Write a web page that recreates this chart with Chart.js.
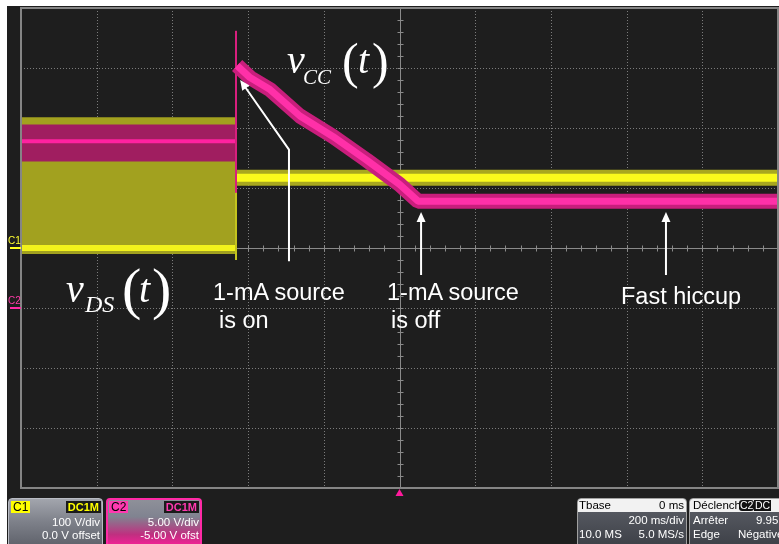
<!DOCTYPE html>
<html>
<head>
<meta charset="utf-8">
<script src="https://cdn.jsdelivr.net/npm/chart.js@4.4.1/dist/chart.umd.min.js"></script>
<style>
html, body { margin: 0; padding: 0; background: #fff; }
#scope { position: relative; width: 779px; height: 544px; overflow: hidden; background: #fff;
  font-family: 'Liberation Sans', Arial, sans-serif; }
#screen { position: absolute; left: 7px; top: 6px; right: 0; bottom: 0; background: #1e1e1e; }
#c { position: absolute; left: 0; top: 0; }
svg.notes { position: absolute; left: 0; top: 0; pointer-events: none; }

/* info boxes under the graticule */
.box { position: absolute; top: 498px; height: 52px; box-sizing: border-box; border-radius: 4px;
  color: #fff; font-size: 11.5px; line-height: 13px; overflow: hidden; }
.box span { position: absolute; white-space: nowrap; }
.ch { border: 1px solid #b8bbc3; background: linear-gradient(#a2a5ad, #7e818a 45%, #5b5e67); }
.ch2 { border: 2px solid #ff2aa6; background: linear-gradient(#8e9099, #808390 35%, #c02f80 72%, #ff1e9c); }
.tag { left: 2px; top: 2px; padding: 0 2px; color: #000; font-size: 12px; line-height: 12px; }
.cpl { right: 1px; top: 2px; padding: 0 2px; background: #1a1a1a; font-size: 11px; line-height: 12px; font-weight: bold; }
.tb { border: 1px solid #a0a0a0; background: linear-gradient(#5e6169, #3b3e45); }
.tb .hd { left: 0; right: 0; top: 0; height: 13px; background: #f2f2f2; }
.tb .dk { color: #000; }
</style>
</head>
<body>
<div id="scope">
  <div id="screen"></div>
  <canvas id="c" width="779" height="544"></canvas>

  <svg class="notes" width="779" height="544">
    <g font-family="'Liberation Serif','Times New Roman',serif" fill="#fff">
      <text x="287" y="73" font-size="40" font-style="italic">v</text>
      <text x="303" y="84" font-size="21" font-style="italic">CC</text>
      <text x="342" y="78" font-size="50">(</text>
      <text x="358" y="73" font-size="40" font-style="italic">t</text>
      <text x="372" y="78" font-size="50">)</text>

      <text x="66" y="302" font-size="40" font-style="italic">v</text>
      <text x="85" y="312" font-size="24" font-style="italic">DS</text>
      <text x="122" y="308" font-size="58">(</text>
      <text x="139" y="302" font-size="40" font-style="italic">t</text>
      <text x="152" y="308" font-size="58">)</text>
    </g>
    <g font-family="'Liberation Sans',Arial,sans-serif" font-size="23.5" fill="#fff">
      <text x="213" y="300">1-mA source</text>
      <text x="219" y="328">is on</text>
      <text x="387" y="300">1-mA source</text>
      <text x="391" y="328">is off</text>
      <text x="621" y="304">Fast hiccup</text>
    </g>
    <g font-family="'Liberation Sans',Arial,sans-serif" font-size="10">
      <text x="8" y="244" fill="#ffff30">C1</text>
      <text x="8" y="304" fill="#ff3aa8">C2</text>
    </g>
  </svg>

  <div class="box ch" style="left:8px;width:95px">
    <span class="tag" style="background:#ffff00">C1</span>
    <span class="cpl" style="color:#ffff00">DC1M</span>
    <span style="right:2px;top:17px">100 V/div</span>
    <span style="right:2px;top:30px">0.0 V offset</span>
  </div>
  <div class="box ch2" style="left:106px;width:96px">
    <span class="tag" style="background:#ff3ab0;left:1px;top:1px">C2</span>
    <span class="cpl" style="color:#ff3ab0;top:1px">DC1M</span>
    <span style="right:1px;top:16px">5.00 V/div</span>
    <span style="right:1px;top:29px">-5.00 V ofst</span>
  </div>
  <div class="box tb" style="left:577px;width:110px">
    <span class="hd"></span>
    <span class="dk" style="left:1px;top:0">Tbase</span>
    <span class="dk" style="right:2px;top:0">0 ms</span>
    <span style="right:2px;top:15px">200 ms/div</span>
    <span style="left:1px;top:29px">10.0 MS</span>
    <span style="right:2px;top:29px">5.0 MS/s</span>
  </div>
  <div class="box tb" style="left:689px;width:104px">
    <span class="hd"></span>
    <span class="dk" style="left:3px;top:0">Déclench</span>
    <span style="left:49px;top:1px;background:#111;padding:0 1px;font-size:10.5px;line-height:11px;border-radius:3px">C2</span>
    <span style="left:64px;top:1px;background:#111;padding:0 1px;font-size:10.5px;line-height:11px">DC</span>
    <span style="left:3px;top:15px">Arrêter</span>
    <span style="left:66px;top:15px">9.95 V</span>
    <span style="left:3px;top:29px">Edge</span>
    <span style="left:48px;top:29px">Négative</span>
  </div>
</div>

<script>
/* ==============================
   Data
   x: ms (200 ms/div), C1: V (100 V/div), C2: V (5 V/div, -5 V offset)
============================== */
const stepTime = -432;

// C1 - v_DS(t)
const vdsTimeBefore = [-1000, -432];
const vdsBandHigh   = [218, 218];
const vdsBandLow    = [-10, -10];
const vdsLevel      = [0, 0];
const vdsStepRange  = [-20, 218];
const vdsTimeAfter  = [-432, 1000];
const vdsAfter      = [117, 117];

// C2 - v_CC(t)
const vccTimeBefore = [-1000, -434];
const vccBandHigh   = [15.3, 15.3];
const vccBandLow    = [12.2, 12.2];
const vccLevel      = [13.9, 13.9];
const vccSpikeRange = [9.6, 23.1];
const vccTimeAfter  = [-429, -395, -342, -263, -176, -86, 0, 49, 1000];
const vccAfter      = [20.2, 19.2, 18.2, 16.0, 14.3, 12.3, 10.3, 8.9, 8.9];

// annotation arrows, anchored in (ms, C2 volts)
const arrows = [
    [[-292, 3.9], [-292, 13.2], [-421, 19.0]],
    [[57, 2.75], [57, 8.0]],
    [[704, 2.75], [704, 8.0]]
];

/* ==============================
   Helpers
============================== */
function pts(xs, ys) {
    return xs.map((x, i) => ({ x, y: ys[i] }));
}

function trace(data, axis, color, width, order, extra) {
    return Object.assign({
        data, yAxisID: axis, borderColor: color, borderWidth: width,
        backgroundColor: color, pointRadius: 0, fill: false, order,
        borderCapStyle: 'butt', borderJoinStyle: 'bevel'
    }, extra || {});
}

/* ==============================
   Graticule + markers
============================== */
const scopeGrid = {
    id: 'scopeGrid',
    beforeDatasetsDraw(chart) {
        const { ctx, chartArea: a, scales: { x, y } } = chart;
        ctx.save();
        ctx.lineWidth = 1;

        // dotted divisions
        ctx.strokeStyle = '#7c7c7c';
        ctx.setLineDash([1, 2]);
        for (let t = -800; t <= 800; t += 200) {
            if (t === 0) continue;
            const px = Math.round(x.getPixelForValue(t)) + 0.5;
            ctx.beginPath(); ctx.moveTo(px, a.top); ctx.lineTo(px, a.bottom); ctx.stroke();
        }
        for (let v = -300; v <= 300; v += 100) {
            if (v === 0) continue;
            const py = Math.round(y.getPixelForValue(v)) + 0.5;
            ctx.beginPath(); ctx.moveTo(a.left, py); ctx.lineTo(a.right, py); ctx.stroke();
        }

        // centre axes with minor ticks
        ctx.setLineDash([]);
        ctx.strokeStyle = '#8a8a8a';
        const cx = Math.round(x.getPixelForValue(0)) + 0.5;
        const cy = Math.round(y.getPixelForValue(0)) + 0.5;
        ctx.beginPath();
        ctx.moveTo(cx, a.top); ctx.lineTo(cx, a.bottom);
        ctx.moveTo(a.left, cy); ctx.lineTo(a.right, cy);
        for (let t = -960; t < 1000; t += 40) {
            const px = Math.round(x.getPixelForValue(t)) + 0.5;
            ctx.moveTo(px, cy - 3); ctx.lineTo(px, cy + 3);
        }
        for (let v = -380; v < 400; v += 20) {
            const py = Math.round(y.getPixelForValue(v)) + 0.5;
            ctx.moveTo(cx - 3, py); ctx.lineTo(cx + 3, py);
        }
        ctx.stroke();
        ctx.restore();
    },
    afterDatasetsDraw(chart) {
        const { ctx, chartArea: a, scales: { x, y, y2 } } = chart;
        ctx.save();

        // frame
        ctx.strokeStyle = '#858585';
        ctx.lineWidth = 2;
        ctx.strokeRect(a.left, a.top, a.right - a.left, a.bottom - a.top);

        // ground markers
        ctx.lineWidth = 2;
        ctx.strokeStyle = '#ffff20';
        let gy = Math.round(y.getPixelForValue(0));
        ctx.beginPath(); ctx.moveTo(10, gy); ctx.lineTo(a.left, gy); ctx.stroke();
        ctx.strokeStyle = '#ff2aa6';
        gy = Math.round(y2.getPixelForValue(0));
        ctx.beginPath(); ctx.moveTo(10, gy); ctx.lineTo(a.left, gy); ctx.stroke();

        // trigger position
        const tx = x.getPixelForValue(0);
        ctx.fillStyle = '#ff1a9c';
        ctx.beginPath();
        ctx.moveTo(tx, a.bottom + 1); ctx.lineTo(tx + 4, a.bottom + 8); ctx.lineTo(tx - 4, a.bottom + 8);
        ctx.closePath(); ctx.fill();

        // annotation arrows
        ctx.strokeStyle = '#fff';
        ctx.fillStyle = '#fff';
        ctx.lineWidth = 2;
        arrows.forEach(path => {
            const p = path.map(([t, v]) => [x.getPixelForValue(t), y2.getPixelForValue(v)]);
            const [ex, ey] = p[p.length - 1];
            const [sx, sy] = p[p.length - 2];
            const ang = Math.atan2(ey - sy, ex - sx);
            ctx.beginPath();
            ctx.moveTo(p[0][0], p[0][1]);
            for (let i = 1; i < p.length - 1; i++) ctx.lineTo(p[i][0], p[i][1]);
            ctx.lineTo(ex - Math.cos(ang) * 8, ey - Math.sin(ang) * 8);
            ctx.stroke();
            ctx.beginPath();
            ctx.moveTo(ex, ey);
            ctx.lineTo(ex - Math.cos(ang) * 10 + Math.sin(ang) * 4.5, ey - Math.sin(ang) * 10 - Math.cos(ang) * 4.5);
            ctx.lineTo(ex - Math.cos(ang) * 10 - Math.sin(ang) * 4.5, ey - Math.sin(ang) * 10 + Math.cos(ang) * 4.5);
            ctx.closePath();
            ctx.fill();
        });
        ctx.restore();
    }
};

/* ==============================
   Traces (higher order = drawn underneath)
============================== */
const datasets = [
    // C1 persistence band before the step
    trace(pts(vdsTimeBefore, vdsBandHigh), 'y', '#a2a11f', 0, 30, { fill: '+1' }),
    trace(pts(vdsTimeBefore, vdsBandLow), 'y', '#a2a11f', 0, 30),
    trace(pts(vdsTimeBefore, vdsLevel), 'y', '#f2f21c', 6, 29),
    trace(pts([stepTime, stepTime], vdsStepRange), 'y', '#c4c41e', 2, 28),
    trace(pts(vdsTimeAfter, vdsAfter), 'y', '#a9a81f', 16, 27),
    trace(pts(vdsTimeAfter, vdsAfter), 'y', '#fbfb1c', 8, 26),

    // C2
    trace(pts(vccTimeBefore, vccBandHigh), 'y2', '#a01e60', 0, 20, { fill: '+1' }),
    trace(pts(vccTimeBefore, vccBandLow), 'y2', '#a01e60', 0, 20),
    trace(pts(vccTimeBefore, vccLevel), 'y2', '#ff22a0', 4, 19),
    trace(pts([stepTime, stepTime], vccSpikeRange), 'y2', '#d81f7e', 2, 18),
    trace(pts(vccTimeAfter, vccAfter), 'y2', '#c81e7c', 15, 17),
    trace(pts(vccTimeAfter, vccAfter), 'y2', '#ff30a8', 7, 16)
];

new Chart(document.getElementById('c'), {
    type: 'line',
    data: { datasets },
    options: {
        responsive: false,
        animation: false,
        devicePixelRatio: 1,
        layout: { padding: { left: 21, top: 8, right: 1, bottom: 56 } },
        scales: {
            x: { type: 'linear', min: -1000, max: 1000, display: false },
            y: { min: -400, max: 400, display: false },
            y2: { min: -15, max: 25, display: false }
        },
        plugins: { legend: { display: false }, tooltip: { enabled: false } },
        elements: { line: { tension: 0 } }
    },
    plugins: [scopeGrid]
});
</script>
</body>
</html>
